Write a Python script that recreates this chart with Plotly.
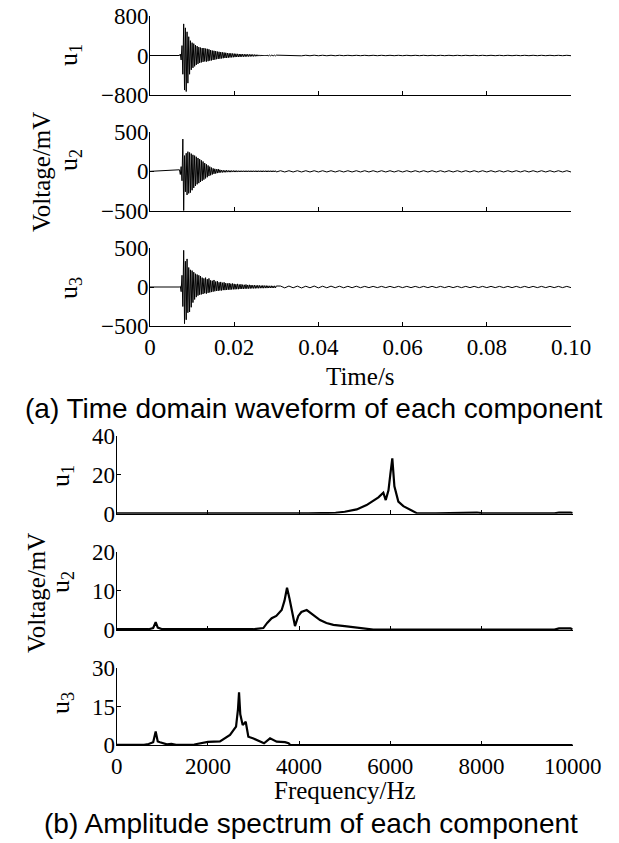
import numpy as np
import plotly.graph_objects as go

# The page body has an 8px margin, so the figure is drawn 8px in from the
# window corner; the figure is sized to fill the rest of the 619x843 window.
OFF = 8
W, H = 619 - OFF, 843 - OFF

# ---------------- data: time-domain waveforms (mV) ----------------
# sampling grid of the burst part and of the tail part (s)
burst_t = np.round(0.0070 + 0.0002 * np.arange(116), 5)
tail_t = np.round(0.031 + 0.001 * np.arange(70), 4)

u1_burst = [0, 30, -90, 200, -380, 640, -700, 560, -730, 480,
            -560, 380, -380, 300, -290, 260, -250, 240, -220, 210,
            -190, 190, -170, 170, -150, 160, -140, 150, -130, 150,
            -120, 140, -125, 135, -115, 125, -105, 110, -100, 100,
            -90, 95, -85, 90, -75, 80, -70, 75, -65, 70,
            -60, 65, -55, 60, -50, 55, -50, 50, -45, 45,
            -40, 45, -38, 40, -35, 38, -32, 35, -30, 33,
            -30, 30, -28, 30, -26, 28, -25, 26, -24, 25,
            -22, 24, -20, 22, -20, 22, -18, 20, -18, 18,
            -16, 16, -14, 14, -12, 12, -12, 11, -10, 10,
            -10, 10, -9, 9, -9, 9, -8, 8, -8, 8,
            -8, 8, -7, 7, -7, 7]
u1_tail = [6, -6, 6, -5, 6, -6, 5, -5, 6, -5,
           5, -5, 5, -5, 5, -4, 4, -4, 4, -4,
           4, -4, 4, -4, 4, -4, 4, -4, 4, -4,
           4, -4, 4, -4, 4, -4, 4, -4, 4, -4,
           4, -4, 4, -4, 4, -4, 4, -4, 4, -4,
           4, -4, 4, -4, 4, -4, 4, -4, 4, -4,
           4, -4, 4, -4, 4, -4, 4, -4, 4, -4]

u2_burst = [20, -40, 60, -120, 410, -500, 200, -260, 230, -300,
            250, -280, 240, -270, 225, -240, 210, -210, 200, -185,
            185, -165, 170, -150, 155, -135, 140, -120, 125, -105,
            105, -90, 90, -75, 75, -60, 60, -50, 48, -40,
            38, -32, 32, -28, 26, -22, 30, -18, 20, -15,
            16, -14, 14, -12, 12, -12, 14, -10, 11, -10,
            10, -10, 10, -9, 10, -9, 9, -9, 9, -9,
            8, -8, 8, -8, 8, -8, 8, -8, 8, -8,
            8, -8, 8, -8, 8, -8, 8, -8, 8, -8,
            8, -8, 8, -8, 8, -8, 8, -8, 8, -8,
            8, -8, 8, -8, 8, -8, 8, -8, 8, -8,
            8, -8, 8, -8, 8, -8]
u2_tail = [8, -8, 8, -8, 8, -8, 8, -8, 8, -8,
           8, -8, 8, -8, 8, -8, 8, -8, 8, -8,
           8, -8, 8, -8, 8, -8, 8, -8, 8, -8,
           8, -8, 8, -8, 8, -8, 8, -8, 8, -8,
           8, -8, 8, -8, 8, -8, 8, -8, 8, -8,
           8, -8, 8, -8, 8, -8, 8, -8, 8, -8,
           8, -8, 8, -8, 8, -8, 8, -8, 8, -8]

u3_burst = [0, 10, -60, 150, -250, 470, -470, 330, -420, 360,
            -330, 250, -320, 220, -260, 210, -200, 190, -160, 170,
            -130, 160, -110, 150, -100, 140, -95, 120, -90, 110,
            -80, 120, -85, 100, -75, 110, -70, 85, -65, 80,
            -60, 90, -55, 70, -50, 75, -50, 60, -45, 65,
            -45, 55, -40, 60, -40, 50, -38, 45, -35, 50,
            -35, 42, -32, 45, -30, 40, -30, 35, -28, 40,
            -28, 32, -25, 35, -25, 30, -24, 28, -22, 32,
            -22, 26, -20, 28, -20, 25, -18, 22, -18, 24,
            -18, 20, -16, 22, -16, 20, -15, 18, -15, 20,
            -15, 17, -14, 18, -14, 16, -13, 15, -13, 16,
            -12, 14, -12, 15, -12, 13]
u3_tail = [12, -11, 12, -10, 11, -12, 10, -10, 12, -11,
           10, -10, 11, -9, 10, -10, 9, -9, 10, -9,
           8, -8, 8, -8, 8, -8, 8, -8, 8, -8,
           8, -8, 8, -8, 8, -8, 8, -8, 8, -8,
           8, -8, 8, -8, 8, -8, 8, -8, 8, -8,
           8, -8, 8, -8, 8, -8, 8, -8, 8, -8,
           8, -8, 8, -8, 8, -8, 8, -8, 8, -8]

# ---------------- data: amplitude spectra (mV) ----------------
f1 = [0, 200, 800, 850, 900, 1500, 3000, 4200, 4800, 5000, 5263, 5480, 5740,
      5847, 5900, 5960, 6000, 6044, 6090, 6176, 6286, 6470, 6580, 7000, 7200,
      7300, 7900, 8000, 8200, 9600, 9700, 9950, 10000]
s1 = [0.2, 0.2, 0.2, 0.3, 0.2, 0.1, 0.1, 0.2, 0.5, 1.0, 2.2, 4.4, 8.4,
      10.8, 7.0, 12, 20, 28.4, 14, 6.2, 3.9, 1.4, 0.3, 0.2, 0.3,
      0.6, 0.6, 0.3, 0.2, 0.2, 0.6, 0.6, 0.3]

f2 = [0, 700, 800, 855, 900, 1000, 3000, 3216, 3300, 3399, 3500, 3618, 3680,
      3735, 3790, 3850, 3910, 3983, 4050, 4167, 4300, 4459, 4600, 4751, 5000,
      5189, 5400, 5627, 6000, 9600, 9700, 9950, 10000]
s2 = [0.2, 0.2, 0.5, 2.0, 0.6, 0.2, 0.2, 0.5, 1.8, 3.0, 3.6, 5.1, 7.5,
      10.8, 8.0, 4.0, 1.0, 3.6, 4.6, 5.1, 4.0, 2.55, 1.8, 1.3, 1.0,
      0.7, 0.4, 0.1, 0.1, 0.1, 0.4, 0.4, 0.2]

f3 = [0, 600, 700, 800, 855, 900, 950, 1100, 1200, 1300, 1700, 1974, 2000,
      2265, 2485, 2617, 2660, 2683, 2710, 2763, 2800, 2829, 2860, 2887, 3000,
      3070, 3231, 3363, 3430, 3509, 3691, 3770, 3801, 3900, 10000]
s3 = [0.2, 0.2, 0.5, 1.2, 5.3, 1.5, 1.2, 0.4, 0.6, 0.2, 0.3, 1.0, 1.3,
      1.5, 4.0, 7.2, 14, 20.5, 12, 7.8, 8.5, 9.1, 6, 3.3, 2.6,
      2.0, 0.8, 2.7, 2.0, 1.4, 1.2, 0.8, 0.2, 0.1, 0.1]

# ---------------- axis settings ----------------
time_ticks = [0, 0.02, 0.04, 0.06, 0.08, 0.10]
time_ticktext = ["0", "0.02", "0.04", "0.06", "0.08", "0.10"]
freq_ticks = [0, 2000, 4000, 6000, 8000, 10000]
freq_ticktext = ["0", "2000", "4000", "6000", "8000", "10000"]
y_ranges = [[-800, 800], [-500, 500], [-500, 500], [0, 40], [0, 20], [0, 30]]
y_ticks = [[-800, 0, 800], [-500, 0, 500], [-500, 0, 500], [0, 20, 40], [0, 10, 20], [0, 15, 30]]
comp_names = ["u<sub>1</sub>", "u<sub>2</sub>", "u<sub>3</sub>"]

SERIF = "Liberation Serif"
SANS = "Liberation Sans"

def px_x(p):
    return (p - OFF) / W

def px_y(p):
    return 1 - (p - OFF) / H

# window-pixel geometry of the six panels: (left, right, top, bottom)
panels = [
    (150, 571, 16, 95),
    (150, 571, 132, 210.7),
    (150, 571, 248, 326),
    (116.7, 572.7, 435.7, 513.7),
    (116.7, 572.7, 551.7, 630),
    (116.7, 572.7, 667.7, 745.3),
]

fig = go.Figure()

series = [
    ([0] + list(burst_t) + list(tail_t), [0] + u1_burst + u1_tail, 1.0),
    ([0] + list(burst_t) + list(tail_t), [0] + u2_burst + u2_tail, 1.0),
    ([0] + list(burst_t) + list(tail_t), [0] + u3_burst + u3_tail, 1.0),
    (f1, s1, 2.2),
    (f2, s2, 2.2),
    (f3, s3, 2.2),
]

layout = dict(
    width=W, height=H, autosize=False,
    margin=dict(l=0, r=0, t=0, b=0, pad=0, autoexpand=False),
    paper_bgcolor="white", plot_bgcolor="white",
    showlegend=False,
    font=dict(family=SERIF, size=23, color="black"),
)

for i, (xs, ys, lw) in enumerate(series):
    n = i + 1
    sfx = "" if n == 1 else str(n)
    fig.add_trace(go.Scatter(x=xs, y=ys, mode="lines",
                             line=dict(color="black", width=lw),
                             xaxis="x" + sfx, yaxis="y" + sfx,
                             hoverinfo="skip"))
    l, r, t, b = panels[i]
    is_time = i < 3
    show_lab = i in (2, 5)
    layout["xaxis" + sfx] = dict(
        domain=[px_x(l), px_x(r)], anchor="y" + sfx,
        range=[0, 0.1] if is_time else [0, 10000],
        tickmode="array",
        tickvals=time_ticks if is_time else freq_ticks,
        ticktext=time_ticktext if is_time else freq_ticktext,
        showticklabels=show_lab, automargin=False,
        ticklabeloverflow="allow",
        ticks="inside", ticklen=4, tickcolor="black", tickwidth=1,
        showline=True, linecolor="black", linewidth=1,
        showgrid=False, zeroline=False,
        tickfont=dict(family=SERIF, size=23, color="black"),
    )
    layout["yaxis" + sfx] = dict(
        domain=[px_y(b), px_y(t)], anchor="x" + sfx,
        range=y_ranges[i], automargin=False,
        ticklabeloverflow="allow", ticklabelstandoff=-4,
        tickmode="array", tickvals=y_ticks[i],
        ticks="inside", ticklen=4, tickcolor="black", tickwidth=1,
        showline=True, linecolor="black", linewidth=1,
        showgrid=False, zeroline=False,
        tickfont=dict(family=SERIF, size=23, color="black"),
    )

fig.update_layout(**layout)

annotations = []
# component labels (rotated)
u_pos = [(70, 55), (70, 160), (70, 288), (62, 476), (62, 582), (62, 703)]
for k, (xp, yp) in enumerate(u_pos):
    annotations.append(dict(text=comp_names[k % 3], x=px_x(xp), y=px_y(yp),
                            xref="paper", yref="paper", showarrow=False,
                            textangle=-90, xanchor="center", yanchor="middle",
                            font=dict(family=SERIF, size=26, color="black")))
# shared y titles
for xp, yp in [(42, 172), (36, 593)]:
    annotations.append(dict(text="Voltage/mV", x=px_x(xp), y=px_y(yp),
                            xref="paper", yref="paper", showarrow=False,
                            textangle=-90, xanchor="center", yanchor="middle",
                            font=dict(family=SERIF, size=25, color="black")))
# x titles
annotations.append(dict(text="Time/s", x=px_x(360.5), y=px_y(376),
                        xref="paper", yref="paper", showarrow=False,
                        xanchor="center", yanchor="middle",
                        font=dict(family=SERIF, size=25, color="black")))
annotations.append(dict(text="Frequency/Hz", x=px_x(344.7), y=px_y(790),
                        xref="paper", yref="paper", showarrow=False,
                        xanchor="center", yanchor="middle",
                        font=dict(family=SERIF, size=25, color="black")))
# captions
annotations.append(dict(text="(a) Time domain waveform of each component",
                        x=px_x(314), y=px_y(408), xref="paper", yref="paper",
                        showarrow=False, xanchor="center", yanchor="middle",
                        font=dict(family=SANS, size=28, color="black")))
annotations.append(dict(text="(b) Amplitude spectrum of each component",
                        x=px_x(311), y=px_y(823), xref="paper", yref="paper",
                        showarrow=False, xanchor="center", yanchor="middle",
                        font=dict(family=SANS, size=28, color="black")))

fig.update_layout(annotations=annotations)
fig.write_html("out.html")
